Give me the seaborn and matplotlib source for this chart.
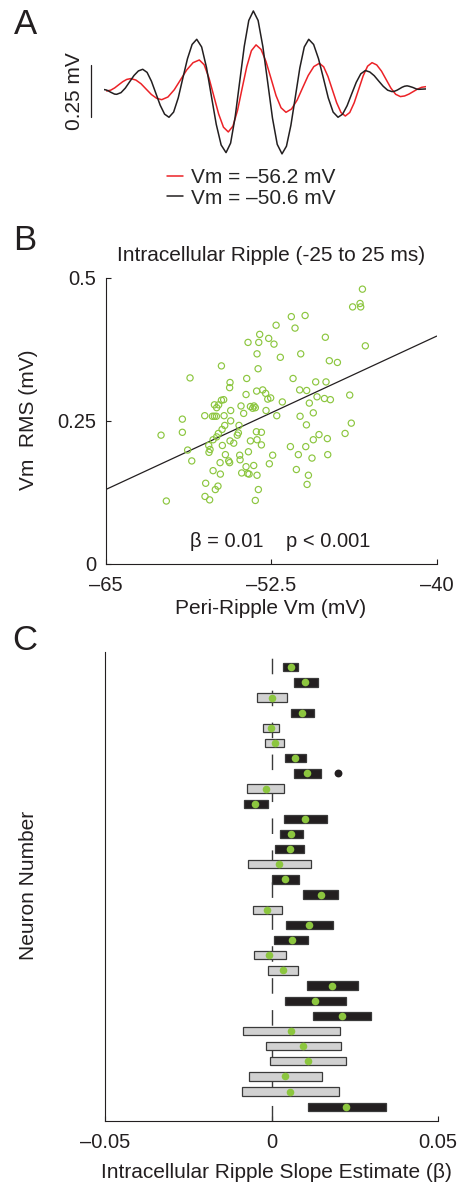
import numpy as np
import pandas as pd
import seaborn as sns
import matplotlib.pyplot as plt

# ---- panel A: example ripple traces (time in ms, Vm deflection in mV) ----
black_t = [-25.00, -24.67, -24.34, -24.02, -23.69, -23.36, -23.03,
           -22.36, -21.69, -21.01, -20.34, -19.66, -18.99,
           -18.31, -17.63, -16.95, -16.27, -15.59, -14.91,
           -14.19, -13.47, -12.76, -12.04, -11.32, -10.60,
           -9.84, -9.08, -8.33, -7.57, -6.81, -6.05,
           -5.34, -4.64, -3.93, -3.22, -2.52, -1.81,
           -1.07, -0.33, 0.42, 1.16, 1.90, 2.64,
           3.33, 4.02, 4.72, 5.41, 6.10, 6.79,
           7.55, 8.31, 9.07, 9.82, 10.58, 11.34,
           12.05, 12.75, 13.46, 14.17, 14.87, 15.58,
           16.27, 16.96, 17.66, 18.35, 19.04, 19.73,
           20.12, 20.51, 20.90, 21.28, 21.67, 22.06,
           22.36, 22.67, 22.97, 23.27, 23.57, 23.87,
           24.43, 25.00]
black_v = [-0.003, -0.005, -0.009, -0.015, -0.020, -0.025, -0.026,
           -0.018, 0.004, 0.035, 0.065, 0.087, 0.095,
           0.080, 0.037, -0.021, -0.079, -0.122, -0.137,
           -0.112, -0.043, 0.052, 0.146, 0.215, 0.240,
           0.203, 0.103, -0.034, -0.171, -0.271, -0.308,
           -0.262, -0.137, 0.035, 0.206, 0.331, 0.377,
           0.331, 0.204, 0.032, -0.141, -0.268, -0.314,
           -0.277, -0.176, -0.037, 0.102, 0.203, 0.240,
           0.215, 0.146, 0.052, -0.043, -0.112, -0.137,
           -0.122, -0.081, -0.024, 0.032, 0.073, 0.089,
           0.082, 0.064, 0.038, 0.013, -0.006, -0.013,
           -0.011, -0.006, 0.001, 0.008, 0.013, 0.015,
           0.013, 0.010, 0.007, 0.003, -0.001, -0.002,
           -0.001, 0.000]

red_t = [-24.58, -23.96, -23.34, -22.72, -22.09, -21.47, -20.85,
         -20.05, -19.25, -18.45, -17.64, -16.84, -16.04,
         -15.07, -14.09, -13.12, -12.15, -11.17, -10.20,
         -9.45, -8.70, -7.95, -7.20, -6.45, -5.70,
         -4.98, -4.26, -3.55, -2.83, -2.11, -1.39,
         -0.61, 0.16, 0.94, 1.71, 2.49, 3.26,
         4.12, 4.99, 5.85, 6.71, 7.58, 8.44,
         9.11, 9.78, 10.46, 11.13, 11.80, 12.47,
         13.16, 13.85, 14.55, 15.24, 15.93, 16.62,
         17.35, 18.09, 18.82, 19.55, 20.29, 21.02,
         21.68, 22.35, 23.01, 23.67, 24.34, 25.00]
red_v = [-0.010, -0.006, 0.005, 0.020, 0.035, 0.046, 0.050,
         0.043, 0.025, -0.001, -0.027, -0.045, -0.052,
         -0.039, -0.004, 0.044, 0.092, 0.127, 0.140,
         0.117, 0.053, -0.034, -0.121, -0.185, -0.208,
         -0.180, -0.103, 0.003, 0.108, 0.185, 0.213,
         0.191, 0.132, 0.050, -0.032, -0.091, -0.113,
         -0.097, -0.054, 0.006, 0.065, 0.108, 0.124,
         0.107, 0.060, -0.004, -0.067, -0.114, -0.131,
         -0.114, -0.067, -0.002, 0.063, 0.110, 0.127,
         0.116, 0.086, 0.045, 0.004, -0.026, -0.037,
         -0.034, -0.025, -0.013, -0.001, 0.008, 0.011]

trace_labels = ["Vm = \u201356.2 mV", "Vm = \u201350.6 mV"]
scale_bar_mv = 0.25

# ---- panel B: peri-ripple Vm vs intracellular ripple RMS ----
peri_vm = [-45.61, -45.79, -46.35, -45.74, -45.39, -49.94, -50.98, -52.13, -50.70, -53.37,
           -52.69, -53.44, -54.25, -52.29, -48.41, -50.27, -53.57, -51.81, -48.11, -47.50,
           -53.49, -56.26, -58.63, -54.35, -50.85, -55.61, -55.64, -49.14, -48.36, -50.35,
           -49.82, -53.14, -53.60, -52.92, -54.40, -52.76, -52.54, -46.57, -49.04, -51.66,
           -49.62, -48.48, -48.03, -56.09, -56.26, -56.79, -56.47, -56.62, -54.78, -54.07,
           -53.90, -53.80, -53.70, -55.56, -52.89, -54.58, -57.52, -56.94, -56.79, -56.64,
           -56.06, -52.08, -50.32, -49.32, -59.21, -55.56, -46.45, -49.84, -56.01, -54.93,
           -56.21, -59.21, -53.62, -53.24, -54.98, -46.92, -48.89, -55.06, -60.82, -56.49,
           -56.62, -56.89, -55.61, -55.33, -54.07, -53.57, -53.24, -49.32, -48.26, -57.22,
           -56.19, -49.89, -51.05, -58.81, -57.12, -57.20, -54.22, -54.88, -55.96, -52.39,
           -50.45, -48.23, -49.42, -54.85, -55.71, -56.36, -55.64, -58.50, -52.64, -53.82,
           -54.40, -56.89, -50.60, -54.73, -54.28, -54.17, -53.57, -56.34, -49.69, -57.45,
           -56.52, -56.72, -53.47, -49.79, -57.50, -57.15, -60.42, -53.70]
ripple_rms = [0.480, 0.455, 0.449, 0.449, 0.381, 0.434, 0.432, 0.417, 0.412, 0.401,
              0.394, 0.387, 0.387, 0.384, 0.396, 0.367, 0.367, 0.361, 0.355, 0.352,
              0.341, 0.346, 0.325, 0.324, 0.324, 0.317, 0.308, 0.318, 0.318, 0.304,
              0.303, 0.304, 0.302, 0.298, 0.296, 0.288, 0.290, 0.295, 0.292, 0.283,
              0.281, 0.289, 0.287, 0.287, 0.286, 0.278, 0.278, 0.273, 0.276, 0.275,
              0.272, 0.276, 0.273, 0.268, 0.268, 0.263, 0.259, 0.258, 0.258, 0.258,
              0.259, 0.259, 0.258, 0.264, 0.253, 0.250, 0.246, 0.243, 0.242, 0.242,
              0.235, 0.230, 0.231, 0.230, 0.229, 0.228, 0.226, 0.225, 0.225, 0.228,
              0.222, 0.217, 0.215, 0.211, 0.215, 0.217, 0.208, 0.217, 0.219, 0.207,
              0.207, 0.205, 0.205, 0.199, 0.200, 0.195, 0.196, 0.190, 0.191, 0.190,
              0.191, 0.191, 0.185, 0.182, 0.180, 0.177, 0.177, 0.180, 0.175, 0.172,
              0.170, 0.163, 0.165, 0.159, 0.158, 0.157, 0.155, 0.157, 0.155, 0.141,
              0.136, 0.130, 0.130, 0.139, 0.118, 0.112, 0.110, 0.111]
fit_x = [-65, -40]
fit_y = [0.130, 0.398]
fit_text = "\u03b2 = 0.01    p < 0.001"

# ---- panel C: per-neuron slope estimates with confidence intervals ----
neuron = list(range(1, 31))
slope_lo = [0.0036, 0.0067, -0.0044, 0.0058, -0.0025, -0.0019, 0.0041, 0.0067, -0.0073, -0.0084,
            0.0038, 0.0025, 0.0011, -0.0070, 0.0002, 0.0095, -0.0057, 0.0044, 0.0009, -0.0053,
            -0.0012, 0.0107, 0.0040, 0.0124, -0.0087, -0.0017, -0.0004, -0.0069, -0.0090, 0.0109]
slope_hi = [0.0080, 0.0139, 0.0047, 0.0128, 0.0024, 0.0039, 0.0103, 0.0148, 0.0037, -0.0011,
            0.0168, 0.0095, 0.0099, 0.0118, 0.0083, 0.0201, 0.0033, 0.0184, 0.0111, 0.0043,
            0.0079, 0.0259, 0.0223, 0.0298, 0.0206, 0.0208, 0.0223, 0.0151, 0.0202, 0.0344]
slope_est = [0.0058, 0.0102, 0.0000, 0.0092, -0.0001, 0.0010, 0.0071, 0.0107, -0.0018, -0.0049,
             0.0102, 0.0060, 0.0056, 0.0023, 0.0042, 0.0148, -0.0013, 0.0114, 0.0062, -0.0008,
             0.0035, 0.0182, 0.0130, 0.0212, 0.0060, 0.0096, 0.0109, 0.0042, 0.0056, 0.0224]
outlier_neuron = [8]
outlier_slope = [0.0200]

GREEN = "#8cc63f"
RED = "#ec2227"
DARK = "#231f20"
GRAY = "#d1d1d1"

sns.set_style("ticks")
plt.rcParams["font.family"] = ["Liberation Sans", "DejaVu Sans"]
plt.rcParams["axes.linewidth"] = 0.8
plt.rcParams["axes.edgecolor"] = DARK

W, H = 461, 1187
fig = plt.figure(figsize=(W / 100, H / 100), dpi=100)


def box(left, top, right, bottom):
    return [left / W, 1 - bottom / H, (right - left) / W, (bottom - top) / H]


def style_ticks(ax):
    ax.tick_params(direction="in", length=3.5, width=0.8, labelsize=14.5, colors=DARK)


# panel A
axA = fig.add_axes(box(104, 0, 426, 170))
sns.lineplot(x=red_t, y=red_v, ax=axA, color=RED, lw=1.1, sort=False, label=trace_labels[0])
sns.lineplot(x=black_t, y=black_v, ax=axA, color=DARK, lw=1.1, sort=False, label=trace_labels[1])
axA.set_xlim(-25, 25)
axA.set_ylim(-0.392, 0.430)
axA.axis("off")
axA.plot([-27.0, -27.0], [-0.134, -0.134 + scale_bar_mv], color=DARK, lw=0.9, clip_on=False)
axA.text(-29.6, -0.01, "0.25 mV", rotation=90, ha="center", va="center", fontsize=15, color=DARK)
axA.legend(loc="center left", bbox_to_anchor=(167 / W, 1 - 188 / H), bbox_transform=fig.transFigure,
           frameon=False, fontsize=15, handlelength=0.75, handletextpad=0.4, labelspacing=0.05,
           borderpad=0, borderaxespad=0)

# panel B
axB = fig.add_axes(box(105.7, 277.7, 436.7, 564))
df_b = pd.DataFrame({"vm": peri_vm, "rms": ripple_rms})
sns.scatterplot(data=df_b, x="vm", y="rms", ax=axB, s=20, facecolor="none",
                edgecolor=GREEN, linewidth=0.85, zorder=3)
sns.lineplot(x=fit_x, y=fit_y, ax=axB, color=DARK, lw=0.9)
axB.set_xlim(-65, -40)
axB.set_ylim(0, 0.5)
axB.set_xticks([-65, -52.5, -40], ["\u201365", "\u201352.5", "\u201340"])
axB.set_yticks([0, 0.25, 0.5], ["0", "0.25", "0.5"])
axB.set_xlabel("")
axB.set_ylabel("")
style_ticks(axB)
axB.tick_params(axis="y", pad=7)
axB.tick_params(axis="x", pad=9)
axB.set_title("Intracellular Ripple (-25 to 25 ms)", fontsize=15, color=DARK, pad=12)
axB.text(-51.8, 0.039, fit_text, ha="center", va="center", fontsize=14.5, color=DARK)
sns.despine(ax=axB)
fig.text(271 / W, 1 - 609 / H, "Peri-Ripple Vm (mV)", ha="center", va="center", fontsize=15, color=DARK)
fig.text(28 / W, 1 - 420 / H, "Vm  RMS (mV)", rotation=90, ha="center", va="center", fontsize=15, color=DARK)

# panel C
axC = fig.add_axes(box(105.3, 652, 437.7, 1121))
sig = [(lo > 0) or (hi < 0) for lo, hi in zip(slope_lo, slope_hi)]
axC.axvline(0, color="#3a3a3a", lw=1.0, ls=(0, (11.2, 11.8)), zorder=1)
axC.barh(neuron, np.array(slope_hi) - np.array(slope_lo), left=slope_lo, height=0.55,
         color=[DARK if s else GRAY for s in sig], edgecolor="#3a3a3a", linewidth=0.9, zorder=2)
sns.scatterplot(x=slope_est, y=neuron, ax=axC, color=GREEN, s=30, linewidth=0, zorder=3)
sns.scatterplot(x=outlier_slope, y=outlier_neuron, ax=axC, color=DARK, s=32, linewidth=0, zorder=3)
axC.set_xlim(-0.05, 0.05)
axC.set_ylim(30.94, -0.01)
axC.set_xticks([-0.05, 0, 0.05], ["\u20130.05", "0", "0.05"])
axC.set_yticks([])
style_ticks(axC)
axC.tick_params(axis="x", pad=9)
sns.despine(ax=axC)
fig.text(276 / W, 1 - 1173 / H, "Intracellular Ripple Slope Estimate (\u03b2)", ha="center", va="center",
         fontsize=15, color=DARK)
fig.text(28 / W, 1 - 885 / H, "Neuron Number", rotation=90, ha="center", va="center", fontsize=15, color=DARK)

# panel letters
for letter, (x, y) in {"A": (25, 25), "B": (25, 240), "C": (25, 640)}.items():
    fig.text(x / W, 1 - y / H, letter, ha="center", va="center", fontsize=25, color=DARK)

fig.savefig("out.png", dpi=100)
